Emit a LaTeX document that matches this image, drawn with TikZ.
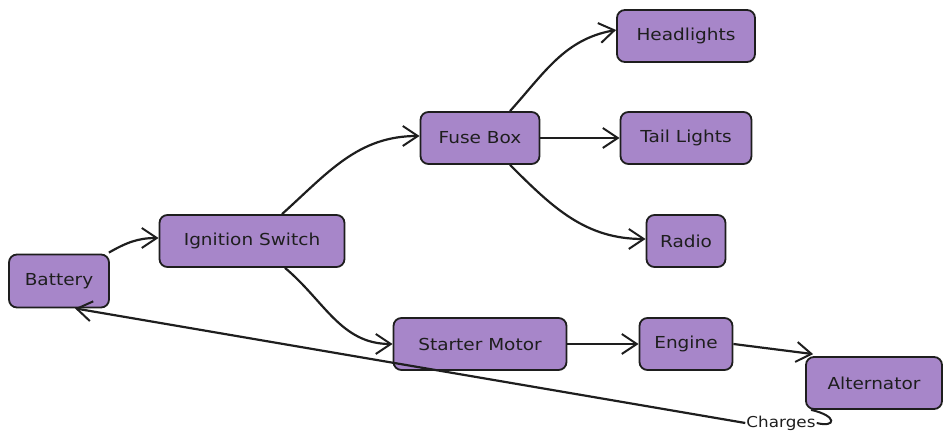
\documentclass[tikz,border=0pt]{standalone}
\usepackage{fontspec}
\setmainfont{DejaVu Sans}[FakeStretch=1.12]
\usetikzlibrary{arrows.meta,calc}
\definecolor{boxfill}{RGB}{167,134,201}
\definecolor{ink}{RGB}{30,30,30}
\begin{document}
\begin{tikzpicture}[x=1pt,y=1pt,
  box/.style={draw=ink,fill=boxfill,line width=1.8pt,rounded corners=8pt,
    inner sep=0pt,font=\fontsize{16.5}{19}\selectfont,text=ink},
  arr/.style={draw=ink,line width=2.2pt,-{Straight Barb[length=15pt,width=20pt,line width=2pt]}},
  plain/.style={draw=ink,line width=2pt},
  lbl/.style={font=\fontsize{15}{17}\selectfont,text=ink,inner sep=1pt}]
\useasboundingbox (0,0) rectangle (950,446);
\node[box,minimum width=100pt,minimum height=53pt] (bat) at (59,165) {Battery};
\node[box,minimum width=185pt,minimum height=52pt] (ign) at (252,205) {Ignition Switch};
\node[box,minimum width=119pt,minimum height=52pt] (fuse) at (480,308) {Fuse Box};
\node[box,minimum width=138pt,minimum height=52pt] (head) at (686,410) {Headlights};
\node[box,minimum width=131pt,minimum height=52pt] (tail) at (686,308) {Tail Lights};
\node[box,minimum width=79pt,minimum height=52pt] (radio) at (686,205) {Radio};
\node[box,minimum width=173pt,minimum height=52pt] (start) at (480,102) {Starter Motor};
\node[box,minimum width=93pt,minimum height=52pt] (eng) at (686,102) {Engine};
\node[box,minimum width=136pt,minimum height=52pt] (alt) at (874,63) {Alternator};
\node[lbl] (chg) at (781,23) {Charges};

\draw[arr] ($(bat.north east)+(-1,1)$) to[out=30,in=180] ($(ign.west)+(0,3)$);
\draw[arr] ($(ign.north)+(30,0)$) to[out=42,in=180] ($(fuse.west)+(0,2)$);
\draw[arr] ($(ign.south)+(33,0)$) to[out=-40,in=180] ($(start.west)+(0,0)$);
\draw[arr] ($(fuse.north)+(30,0)$) to[out=48,in=190] ($(head.west)+(0,6)$);
\draw[arr] (fuse.east) -- (tail.west);
\draw[arr] ($(fuse.south)+(30,0)$) to[out=-45,in=180] ($(radio.west)+(0,2)$);
\draw[arr] (start.east) -- (eng.west);
\draw[arr] (eng.east) -- ($(alt.north west)+(8,2)$);
\draw[plain] ($(alt.south west)+(6,0)$) .. controls (838,30) and (836,18) .. (chg.east);
\draw[arr] (chg.west) -- ($(bat.south)+(16,0)$);
\end{tikzpicture}
\end{document}
